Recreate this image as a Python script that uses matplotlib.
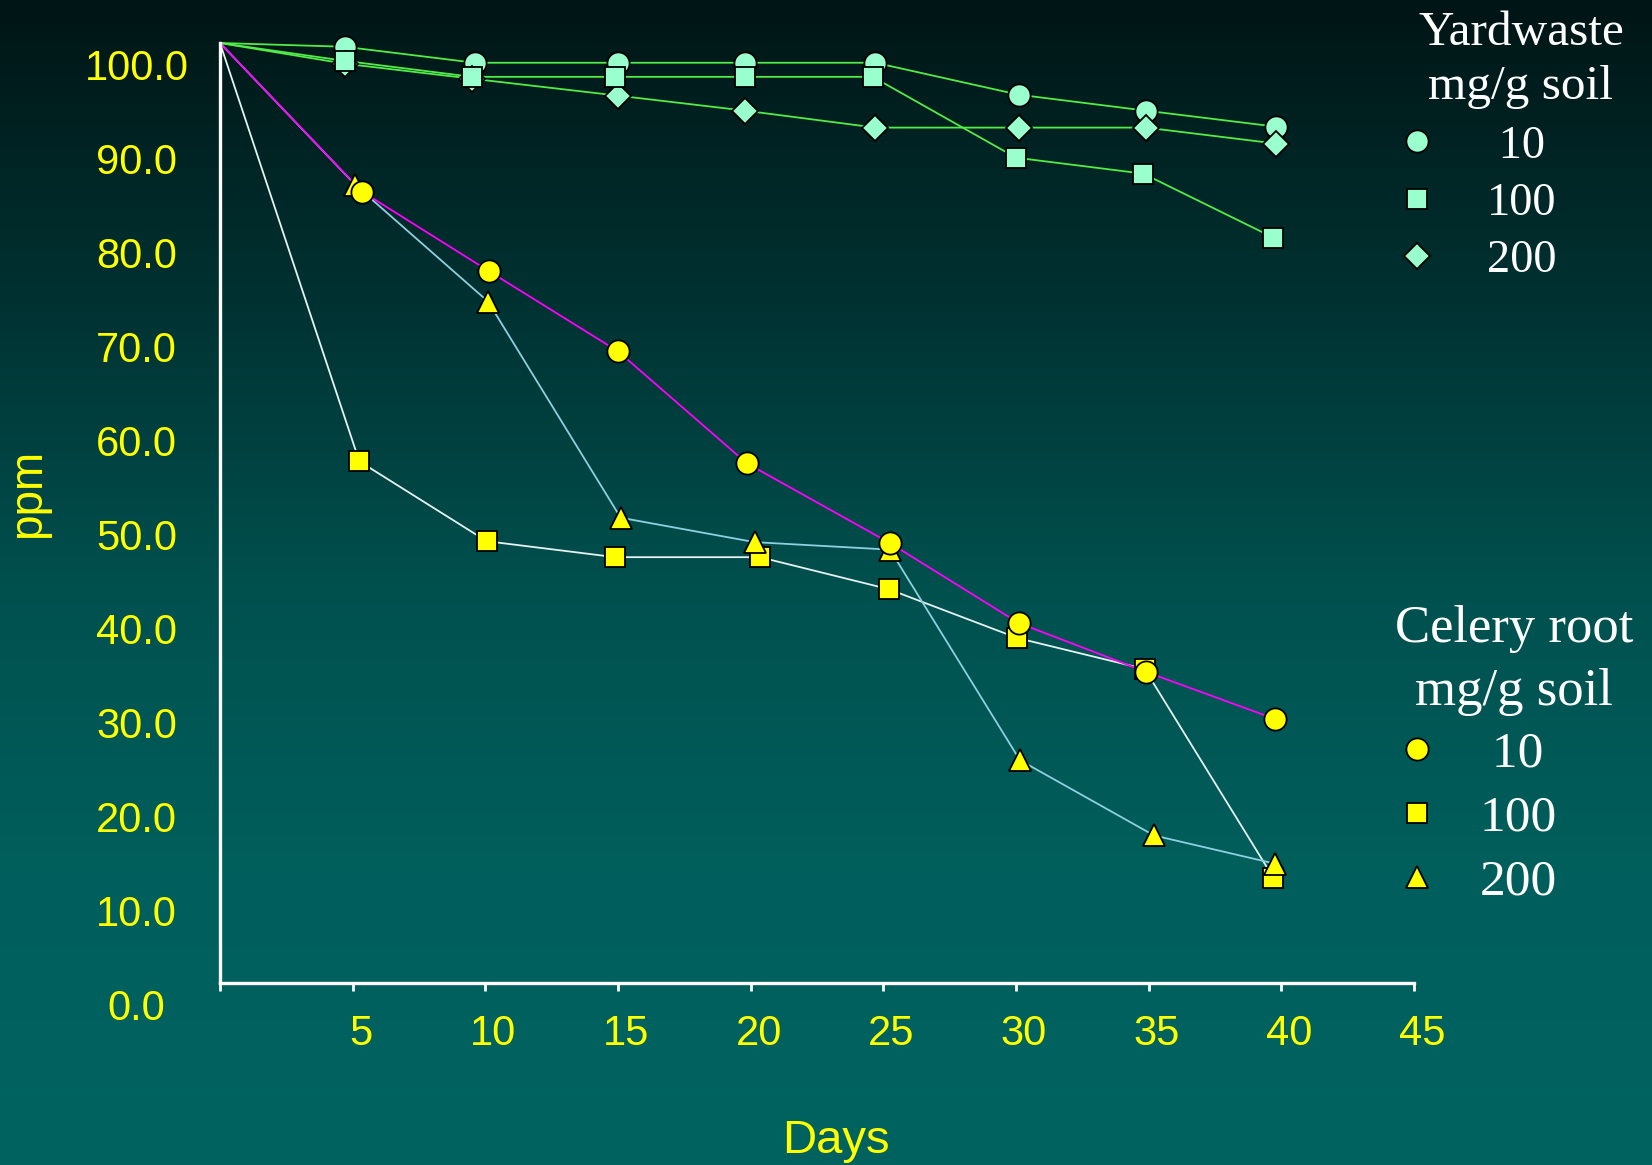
import numpy as np
import matplotlib
matplotlib.use("Agg")
from matplotlib import pyplot as plt
from matplotlib.lines import Line2D
import matplotlib.transforms as mtrans

# yardwaste amendment (mg/g soil)
yw10_days = [0, 4.7, 9.6, 15.0, 19.8, 24.7, 30.1, 34.9, 39.8]
yw10_ppm = [100, 99.6, 97.9, 97.9, 97.9, 97.9, 94.5, 92.8, 91.1]
yw100_days = [0, 4.7, 9.5, 14.9, 19.8, 24.6, 30.0, 34.8, 39.7]
yw100_ppm = [100, 98.1, 96.4, 96.4, 96.4, 96.4, 87.8, 86.1, 79.3]
yw200_days = [0, 4.7, 9.5, 15.0, 19.8, 24.7, 30.1, 34.9, 39.8]
yw200_ppm = [100, 97.8, 96.2, 94.4, 92.8, 91.0, 91.0, 91.0, 89.3]

# celery root amendment (mg/g soil)
cr10_days = [0, 5.35, 10.15, 15.0, 19.85, 25.25, 30.1, 34.9, 39.75]
cr10_ppm = [100, 84.2, 75.7, 67.2, 55.3, 46.8, 38.3, 33.1, 28.1]
cr100_days = [0, 5.25, 10.05, 14.9, 20.35, 25.2, 30.05, 34.85, 39.7]
cr100_ppm = [100, 55.5, 47.0, 45.3, 45.3, 41.9, 36.7, 33.4, 11.2]
cr200_days = [0, 5.1, 10.1, 15.1, 20.15, 25.25, 30.15, 35.2, 39.75]
cr200_ppm = [100, 84.9, 72.5, 49.5, 46.9, 46.1, 23.7, 15.7, 12.7]

x_ticks = [0, 5, 10, 15, 20, 25, 30, 35, 40, 45]
y_ticks = [0, 10, 20, 30, 40, 50, 60, 70, 80, 90, 100]

W, H = 1652, 1165
fig = plt.figure(figsize=(W / 100, H / 100), dpi=100)

# background gradient
bg = fig.add_axes([0, 0, 1, 1], zorder=-10)
yy = np.linspace(0, 1, 400)
stops = [0, 0.26, 0.5, 0.75, 1.0]
g = np.interp(yy, stops, [21, 50, 80, 95, 99])
b = np.interp(yy, stops, [21, 50, 78, 92, 96])
grad = np.stack([np.zeros_like(yy), g / 255, b / 255], axis=1)[:, None, :]
bg.imshow(grad, aspect="auto", extent=[0, 1, 0, 1])
bg.axis("off")

px = 9.4  # pixels per ppm
ax = fig.add_axes([220 / W, (H - 983) / H, 1194 / W, 983 / H])
ax.patch.set_alpha(0)
ax.set_xlim(0, 45)
ax.set_ylim(0, 983 / px)

for s in ["top", "right"]:
    ax.spines[s].set_visible(False)
for s in ["left", "bottom"]:
    ax.spines[s].set_color("white")
    ax.spines[s].set_linewidth(2.4)
ax.spines["left"].set_bounds(0, 100)

green = "#52EC48"
mint = "#99FFCC"
yellow = "#FFFF00"

series = [
    (yw10_days, yw10_ppm, green, mint, "o", 16, 3.1),
    (yw200_days, yw200_ppm, green, mint, "D", 13, 3.2),
    (yw100_days, yw100_ppm, green, mint, "s", 14, 3.3),
    (cr100_days, cr100_ppm, "#E6F2F2", yellow, "s", 14, 3.4),
    (cr200_days, cr200_ppm, "#8ECFE0", yellow, "^", 16, 3.5),
    (cr10_days, cr10_ppm, "#FF00FF", yellow, "o", 16, 3.6),
]
for d, v, lc, fc, m, ms, z in series:
    ax.plot(d, v, color=lc, lw=1.3, zorder=2)
for d, v, lc, fc, m, ms, z in series:
    ax.plot(d[1:], v[1:], ls="none", marker=m, ms=ms, mfc=fc, mec="black",
            mew=1.3, zorder=z)

ax.set_xticks(x_ticks)
ax.set_xticklabels([""] + [str(t) for t in x_ticks[1:]])
ax.set_yticks(y_ticks)
ax.set_yticklabels(["%.1f" % t for t in y_ticks])
ax.tick_params(axis="x", colors="white", direction="out", length=6, width=2,
               labelcolor=yellow, labelsize=30, pad=16)
ax.tick_params(axis="y", length=0, labelcolor=yellow, labelsize=30, pad=60)
for lab in ax.get_xticklabels():
    lab.set_family("Liberation Sans")
    lab.set_transform(lab.get_transform() +
                      mtrans.ScaledTranslation(0.08, 0, fig.dpi_scale_trans))
for lab in ax.get_yticklabels():
    lab.set_family("Liberation Sans")
    lab.set_horizontalalignment("center")
    lab.set_transform(lab.get_transform() +
                      mtrans.ScaledTranslation(0, -0.21, fig.dpi_scale_trans))

ax.set_xlabel("Days", color=yellow, fontsize=34, family="Liberation Sans")
ax.xaxis.label.set_va("center")
ax.xaxis.set_label_coords((836 - 220) / 1194, (983 - 1141) / 983)
ax.set_ylabel("ppm", color=yellow, fontsize=33, family="Liberation Sans")
ax.yaxis.label.set_va("center")
ax.yaxis.set_label_coords((28 - 220) / 1194, (983 - 493) / 983)


# legends
def make_legend(title, labels, markers, fc, size, tsize, anchor, title_xy,
                spacing, pad, tls):
    handles = [Line2D([], [], ls="none", marker=m, ms=ms, mfc=fc, mec="black", mew=1.3)
               for m, ms in markers]
    leg = ax.legend(handles, labels, loc="upper left", bbox_to_anchor=anchor,
                    bbox_transform=fig.transFigure, frameon=False,
                    prop={"family": "Liberation Serif", "size": size},
                    labelcolor="white", handlelength=1.0, handletextpad=pad,
                    labelspacing=spacing, borderpad=0, borderaxespad=0)
    fig.text(title_xy[0] / W, 1 - title_xy[1] / H, title, color="white",
             family="Liberation Serif", fontsize=tsize, ha="center", va="top",
             linespacing=tls)
    return leg


leg1 = make_legend("Yardwaste\nmg/g soil", [" 10", "100", "200"],
                   [("o", 16), ("s", 14), ("D", 13)], mint, 33.5, 35.5,
                   anchor=(1394 / W, 1 - 125 / H), title_xy=(1521, 11),
                   spacing=0.32, pad=1.0, tls=1.28)
ax.add_artist(leg1)
leg2 = make_legend("Celery root\nmg/g soil", [" 10", "100", "200"],
                   [("o", 16), ("s", 14), ("^", 16)], yellow, 37, 38,
                   anchor=(1391 / W, 1 - 731 / H), title_xy=(1514, 605),
                   spacing=0.33, pad=0.72, tls=1.4)

fig.savefig("out.png", dpi=100)
